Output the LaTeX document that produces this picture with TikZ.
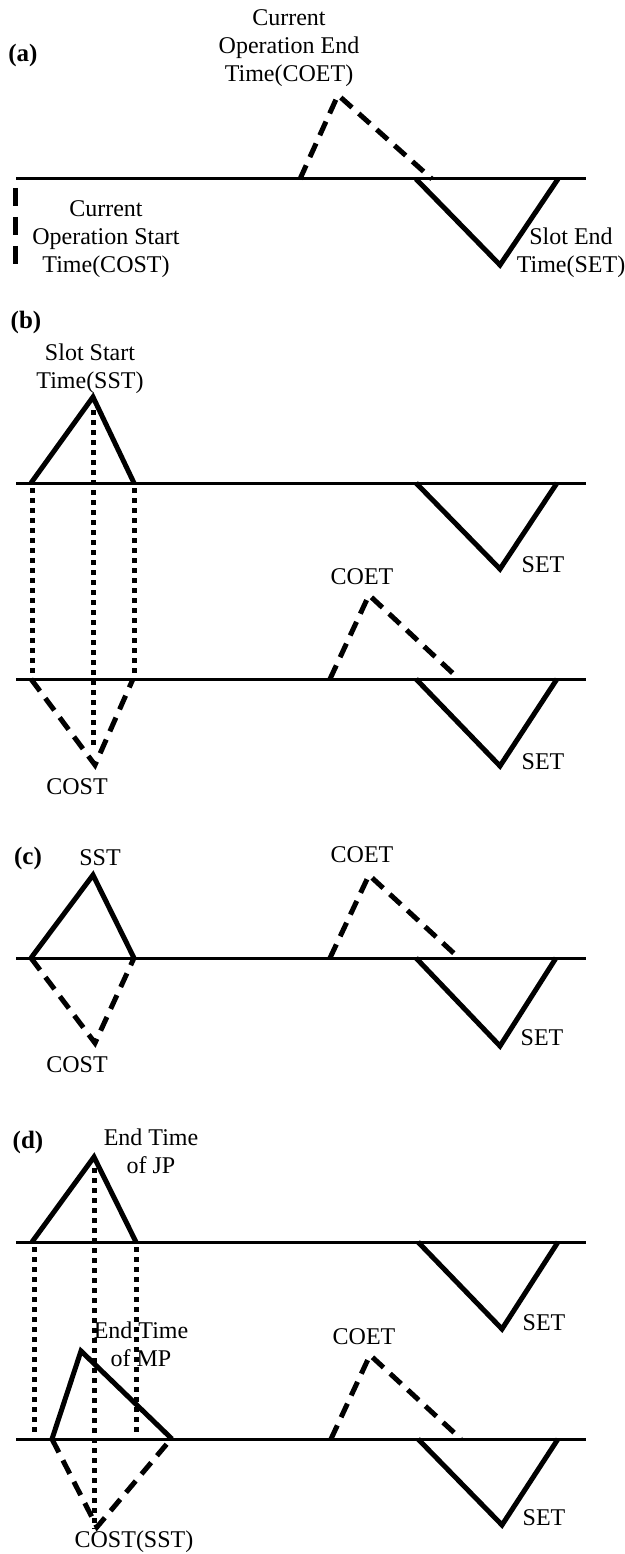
\documentclass[tikz,border=0pt]{standalone}
\usepackage{fontspec}
\setmainfont{Liberation Serif}
\begin{document}
\begin{tikzpicture}[x=1pt,y=-1pt,
  axis/.style={line width=3pt},
  solidtri/.style={line width=5pt, line join=miter, line cap=butt},
  dashtri/.style={line width=5pt, line join=miter, dash pattern=on 15pt off 9pt},
  dashvert/.style={line width=5pt, dash pattern=on 18pt off 11pt},
  dotline/.style={line width=5pt, dash pattern=on 5pt off 5pt},
  lbl/.style={font=\fontsize{24}{28}\selectfont, align=center, inner sep=0pt},
  panel/.style={font=\bfseries\fontsize{25}{28}\selectfont, inner sep=0pt}]
\path[use as bounding box] (0,0) rectangle (624,1554);

% ---------------- (a)
\node[panel] (pa) at (23,55) {(a)};
\node[lbl] (acoet) at (289,48) {Current\\Operation End\\Time(COET)};
\node[lbl] (acost) at (106,239) {Current\\Operation Start\\Time(COST)};
\node[lbl] (aset) at (571,253) {Slot End\\Time(SET)};
\coordinate (aL) at (16,179); \coordinate (aR) at (586,179);
\draw[axis] (aL) -- (aR);
\coordinate (ac1) at (300,179); \coordinate (ac2) at (338,95); \coordinate (ac3) at (432,179);
\draw[dashtri] (ac1) -- (ac2) -- (ac3);
\coordinate (as1) at (416,179); \coordinate (as2) at (500,265); \coordinate (as3) at (558,179);
\draw[solidtri] (as1) -- (as2) -- (as3);
\coordinate (av1) at (15,188); \coordinate (av2) at (15,264);
\draw[dashvert] (av1) -- (av2);

% ---------------- (b)
\node[panel] (pb) at (26,322) {(b)};
\node[lbl] (bsst) at (90,369) {Slot Start\\Time(SST)};
\coordinate (bL1) at (16,483); \coordinate (bR1) at (586,483);
\coordinate (bL2) at (16,679); \coordinate (bR2) at (586,679);
\draw[axis] (bL1) -- (bR1);
\draw[axis] (bL2) -- (bR2);
\coordinate (bt1) at (31,483); \coordinate (bt2) at (93,397); \coordinate (bt3) at (134,483);
\draw[solidtri] (bt1) -- (bt2) -- (bt3);
\coordinate (bs1) at (416,483); \coordinate (bs2) at (500,569); \coordinate (bs3) at (557,483);
\draw[solidtri] (bs1) -- (bs2) -- (bs3);
\node[lbl] (bset1) at (543,565) {SET};
\coordinate (bd1a) at (32,488); \coordinate (bd1b) at (32,676);
\coordinate (bd2a) at (93,410); \coordinate (bd2b) at (93,749);
\coordinate (bd3a) at (134,488); \coordinate (bd3b) at (134,676);
\draw[dotline] (bd1a) -- (bd1b);
\draw[dotline] (bd2a) -- (bd2b);
\draw[dotline] (bd3a) -- (bd3b);
\node[lbl] (bcoet) at (362,577) {COET};
\coordinate (bc1) at (330,679); \coordinate (bc2) at (369,595); \coordinate (bc3) at (459,679);
\draw[dashtri] (bc1) -- (bc2) -- (bc3);
\coordinate (bs4) at (416,679); \coordinate (bs5) at (500,766); \coordinate (bs6) at (557,679);
\draw[solidtri] (bs4) -- (bs5) -- (bs6);
\node[lbl] (bset2) at (543,762) {SET};
\coordinate (bo1) at (31,679); \coordinate (bo2) at (95,765); \coordinate (bo3) at (133,679);
\draw[dashtri] (bo1) -- (bo2) -- (bo3);
\node[lbl] (bcost) at (77,787) {COST};

% ---------------- (c)
\node[panel] (pc) at (28,858) {(c)};
\node[lbl] (csst) at (100,858) {SST};
\coordinate (cL) at (16,958); \coordinate (cR) at (586,958);
\draw[axis] (cL) -- (cR);
\coordinate (ct1) at (31,958); \coordinate (ct2) at (93,875); \coordinate (ct3) at (134,958);
\draw[solidtri] (ct1) -- (ct2) -- (ct3);
\coordinate (co1) at (31,958); \coordinate (co2) at (95,1043); \coordinate (co3) at (134,958);
\draw[dashtri] (co1) -- (co2) -- (co3);
\node[lbl] (ccost) at (77,1065) {COST};
\node[lbl] (ccoet) at (362,855) {COET};
\coordinate (cc1) at (330,958); \coordinate (cc2) at (369,875); \coordinate (cc3) at (459,958);
\draw[dashtri] (cc1) -- (cc2) -- (cc3);
\coordinate (cs1) at (416,958); \coordinate (cs2) at (500,1046); \coordinate (cs3) at (556,958);
\draw[solidtri] (cs1) -- (cs2) -- (cs3);
\node[lbl] (cset) at (542,1038) {SET};

% ---------------- (d)
\node[panel] (pd) at (28,1142) {(d)};
\node[lbl] (djp) at (151,1151) {End Time\\of JP};
\coordinate (dL1) at (16,1242); \coordinate (dR1) at (586,1242);
\coordinate (dL2) at (16,1439); \coordinate (dR2) at (586,1439);
\draw[axis] (dL1) -- (dR1);
\draw[axis] (dL2) -- (dR2);
\coordinate (dt1) at (32,1242); \coordinate (dt2) at (94,1157); \coordinate (dt3) at (136,1242);
\draw[solidtri] (dt1) -- (dt2) -- (dt3);
\coordinate (ds1) at (418,1242); \coordinate (ds2) at (502,1329); \coordinate (ds3) at (558,1242);
\draw[solidtri] (ds1) -- (ds2) -- (ds3);
\node[lbl] (dset1) at (544,1323) {SET};
\coordinate (dd1a) at (34,1247); \coordinate (dd1b) at (34,1434);
\coordinate (dd2a) at (94,1168); \coordinate (dd2b) at (94,1529);
\coordinate (dd3a) at (136,1247); \coordinate (dd3b) at (136,1434);
\draw[dotline] (dd1a) -- (dd1b);
\draw[dotline] (dd2a) -- (dd2b);
\draw[dotline] (dd3a) -- (dd3b);
\node[lbl] (dmp) at (141,1344) {End Time\\of MP};
\coordinate (dm1) at (52,1439); \coordinate (dm2) at (81,1351); \coordinate (dm3) at (172,1439);
\draw[solidtri] (dm1) -- (dm2) -- (dm3);
\coordinate (do1) at (52,1439); \coordinate (do2) at (97,1527); \coordinate (do3) at (171,1439);
\draw[dashtri] (do1) -- (do2) -- (do3);
\node[lbl] (dcost) at (134,1542) {COST(SST)};
\node[lbl] (dcoet) at (364,1337) {COET};
\coordinate (dc1) at (331,1439); \coordinate (dc2) at (370,1355); \coordinate (dc3) at (461,1439);
\draw[dashtri] (dc1) -- (dc2) -- (dc3);
\coordinate (ds4) at (418,1439); \coordinate (ds5) at (502,1525); \coordinate (ds6) at (558,1439);
\draw[solidtri] (ds4) -- (ds5) -- (ds6);
\node[lbl] (dset2) at (544,1518) {SET};
\end{tikzpicture}
\end{document}
